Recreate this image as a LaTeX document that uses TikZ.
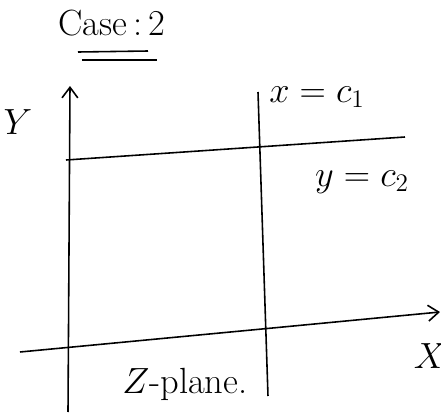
\documentclass[tikz,border=0pt]{standalone}
\usepackage{amsmath, amssymb}
\usepackage{xcolor}
\usepackage{tikz}
\usetikzlibrary{arrows.meta, positioning}

\begin{document}
\begin{tikzpicture}[x=0.02cm, y=-0.02cm, >={Straight Barb[length=6pt, width=9pt]}, line width=0.9pt]
  \useasboundingbox (0,0) rectangle (441,420);

  % Title with double underline
  \node (title) at (112,23) [font=\huge] {Case\,:\,2};
  \coordinate (ulaL) at (78,52);
  \coordinate (ulaR) at (148,51);
  \coordinate (ulbL) at (82,60);
  \coordinate (ulbR) at (157,60);
  \draw (ulaL) -- (ulaR);
  \draw (ulbL) -- (ulbR);

  % Axes
  \coordinate (ybot) at (68,412);
  \coordinate (ytop) at (70,86);
  \coordinate (xleft) at (20,352);
  \coordinate (xmid) at (262,329);
  \coordinate (xright) at (440,312);
  \draw[->] (ybot) -- (ytop);
  \draw[->] (xleft) -- (xmid) -- (xright);
  \node (ylab) at (18,122) [font=\huge] {$Y$};
  \node (xlab) at (430,356) [font=\huge] {$X$};

  % Level lines
  \coordinate (c1top) at (258,92);
  \coordinate (c1bot) at (268,396);
  \coordinate (c2left) at (66,160);
  \coordinate (c2right) at (405,137);
  \draw (c1top) -- (c1bot);
  \draw (c2left) -- (c2right);
  \node (c1lab) at (317,97) [font=\huge] {$x = c_1$};
  \node (c2lab) at (362,182) [font=\huge] {$y = c_2$};

  % Plane label
  \node (plane) at (185,384) [font=\huge] {$Z$-plane.};
\end{tikzpicture}
\end{document}
